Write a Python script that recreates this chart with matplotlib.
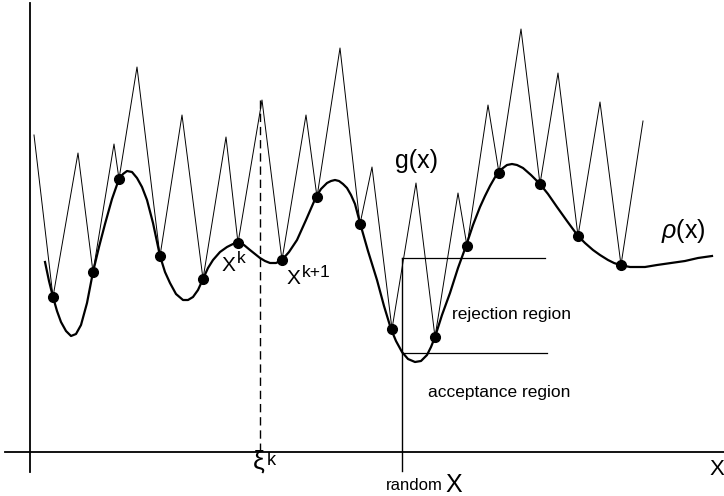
import matplotlib
matplotlib.use("Agg")
import matplotlib.pyplot as plt

plt.rcParams['font.family'] = ['Liberation Sans', 'DejaVu Sans']
plt.rcParams['mathtext.fontset'] = 'custom'
plt.rcParams['mathtext.rm'] = 'Liberation Sans'
plt.rcParams['mathtext.it'] = 'Liberation Sans:italic'

# all values, in pixel units (y grows downwards)

# g(x): piecewise linear envelope, valleys touch rho(x)
g_x = [34, 53, 78, 93, 114, 119, 137, 160, 182, 203, 226, 238, 262, 282, 306, 317,
       340, 360, 372, 392, 416, 435, 458, 467, 488, 499, 521, 540, 558, 578, 600, 621, 643]
g_y = [135, 297, 153, 272, 144, 179, 67, 256, 115, 279, 137, 243, 100, 260, 115, 197,
       48, 224, 167, 329, 183, 337, 193, 246, 105, 173, 29, 184, 73, 236, 102, 265, 121]

# sample points (dots) = valleys of g
node_x = g_x[1::2]
node_y = g_y[1::2]

# rho(x): smooth target density
rho_x = [45, 49, 53, 57, 61, 66, 71, 76, 81, 87, 93, 99, 105, 112, 119, 123, 127, 132,
         137, 142, 147, 153, 160, 165, 170, 176, 183, 188, 193, 198, 203, 208, 213, 220,
         227, 233, 238, 244, 250, 255, 260, 265, 270, 276, 282, 289, 297, 306, 316, 321,
         327, 331, 335, 339, 343, 347, 351, 355, 360, 368, 377, 384, 391, 396, 402, 408,
         415, 421, 427, 431, 435, 442, 450, 458, 466, 473, 480, 485, 490, 494, 498, 503,
         507, 512, 517, 523, 531, 540, 548, 557, 567, 578, 585, 593, 600, 608, 614, 620,
         630, 645, 657, 671, 685, 698, 712]
rho_y = [262, 281, 297, 311, 322, 331, 336, 334, 325, 303, 272, 247, 224, 199, 179, 174,
         171, 172, 178, 187, 200, 223, 256, 272, 283, 294, 300, 300, 297, 290, 279, 268,
         260, 252, 247, 244, 243, 245, 250, 254, 258, 261, 263, 263, 260, 252, 240, 220,
         197, 189, 183, 181, 180, 181, 184, 188, 195, 204, 223, 251, 280, 306, 329, 341,
         352, 359, 362, 361, 355, 347, 337, 315, 293, 268, 246, 225, 207, 196, 186, 179,
         172, 168, 165, 164, 165, 168, 175, 184, 194, 207, 221, 236, 243, 250, 255, 260,
         263, 265, 267, 267, 265, 263, 261, 258, 256]

# axes and construction lines
y_axis_x, y_axis_top, y_axis_bottom = 30, 3, 472
x_axis_y, x_axis_left, x_axis_right = 452, 5, 724
xi_x, xi_top = 260, 100
rand_x, rand_bottom = 402, 471
reject_y, reject_right = 258, 545
accept_y, accept_right = 353, 547

fig = plt.figure(figsize=(7.24, 4.96), dpi=100)
ax = fig.add_axes([0, 0, 1, 1])
ax.set_xlim(0, 724)
ax.set_ylim(496, 0)
ax.axis('off')

ax.plot([y_axis_x, y_axis_x], [y_axis_top, y_axis_bottom], color='black', lw=1.3)
ax.plot([x_axis_left, x_axis_right], [x_axis_y, x_axis_y], color='black', lw=1.3)

ax.plot([xi_x, xi_x], [xi_top, x_axis_y], color='black', lw=1.0, dashes=(6, 3.5))
ax.plot([rand_x, rand_x], [reject_y, rand_bottom], color='black', lw=1.0)
ax.plot([rand_x, reject_right], [reject_y, reject_y], color='black', lw=0.9)
ax.plot([rand_x, accept_right], [accept_y, accept_y], color='black', lw=0.9)

ax.plot(g_x, g_y, color='black', lw=0.7)
ax.plot(rho_x, rho_y, color='black', lw=1.6, solid_joinstyle='round')
ax.plot(node_x, node_y, 'o', color='black', ms=7)

# labels
ax.text(416, 161, 'g(x)', fontsize=18, ha='center', va='center')
ax.text(683, 231, r'$\rho$(x)', fontsize=18, ha='center', va='center')

ax.text(222, 271, 'X', fontsize=15, ha='left', va='baseline')
ax.text(237, 263, 'k', fontsize=12.5, ha='left', va='baseline')
ax.text(287, 284, 'X', fontsize=15, ha='left', va='baseline')
ax.text(302, 277, 'k+1', fontsize=12.5, ha='left', va='baseline')

ax.text(512, 315, 'rejection region', fontsize=12.5, ha='center', va='center')
ax.text(499, 393, 'acceptance region', fontsize=12.5, ha='center', va='center')

ax.text(253, 469, 'ξ', fontsize=19, ha='left', va='baseline')
ax.text(267, 465, 'k', fontsize=13, ha='left', va='baseline')
ax.text(443, 490, 'random', fontsize=12, ha='right', va='baseline')
ax.text(445, 492, 'X', fontsize=18, ha='left', va='baseline')
ax.text(709, 475, 'X', fontsize=16, ha='left', va='baseline')

fig.savefig('out.png', dpi=100)
